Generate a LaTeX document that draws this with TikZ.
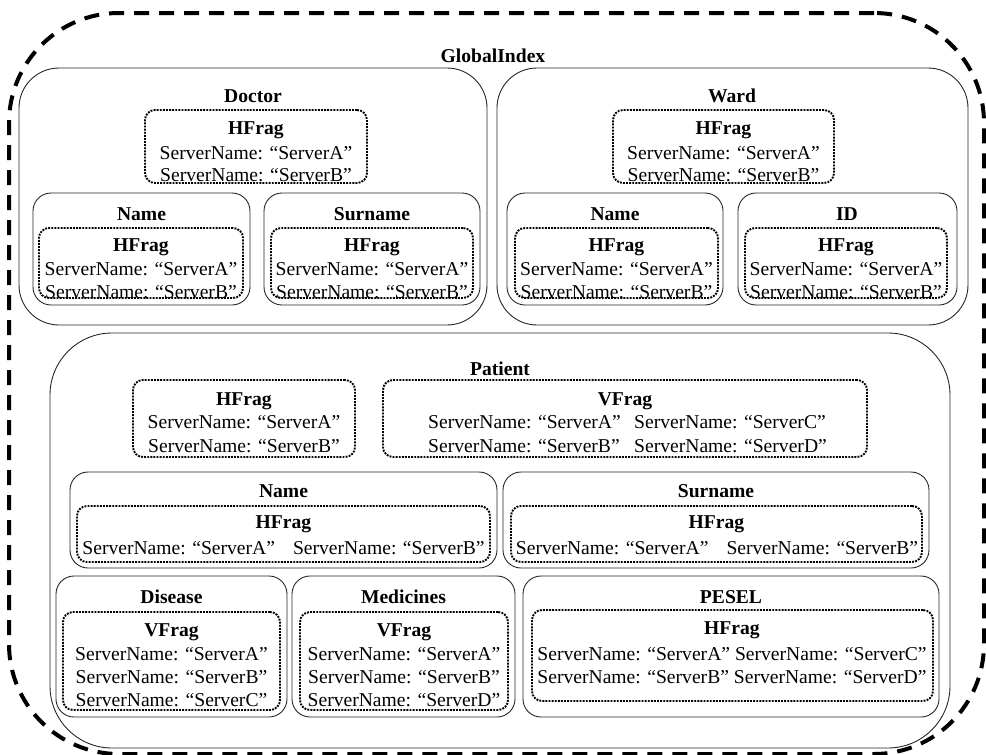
\documentclass[tikz,border=0pt]{standalone}
\usepackage{fontspec}
\setmainfont{Liberation Serif}
\newcommand\srvn[1]{ServerName: “Server#1”}
\newcommand\mkbox[6]{\node[#6, anchor=north west, minimum width={(#4)-(#2)}, minimum height={(#5)-(#3)}] (#1) at (#2,#3) {};}
\begin{document}
\begin{tikzpicture}[x=1pt,y=-1pt,
  frame/.style={draw=black!85, line width=0.9pt, inner sep=0pt, outer sep=0pt},
  big/.style={frame, rounded corners=40pt},
  attr/.style={frame, rounded corners=18pt},
  patbox/.style={frame, rounded corners=62pt},
  frag/.style={draw=black, line width=1.9pt, dash pattern=on 1.9pt off 1.2pt, rounded corners=10pt, inner sep=0pt, outer sep=0pt},
  gidx/.style={draw=black, line width=4pt, dash pattern=on 15pt off 10pt, rounded corners=110pt, inner sep=0pt, outer sep=0pt},
  txt/.style={anchor=base, inner sep=0pt, font=\fontsize{19.6}{23}\selectfont},
  ttl/.style={anchor=base, inner sep=0pt, font=\fontsize{19.6}{23}\selectfont\bfseries},
  txl/.style={anchor=base west, inner sep=0pt, font=\fontsize{19.6}{23}\selectfont}]
\useasboundingbox (0,0) rectangle (986,755);

% outer global index
\mkbox{gi}{9}{13}{984}{754}{gidx}
\node[ttl] (gT) at (493,62) {GlobalIndex};

% Doctor
\mkbox{doc}{19}{68}{487}{325}{big}
\node[ttl] (dT) at (253,102) {Doctor};
\mkbox{docF}{145}{110}{367}{183}{frag}
\node[ttl] (dFH) at (256,134) {HFrag};
\node[txt] (dF1) at (256,159) {\srvn{A}};
\node[txt] (dF2) at (256,181) {\srvn{B}};

\mkbox{docN}{33}{193}{250}{305}{attr}
\node[ttl] (dNT) at (141.5,220) {Name};
\mkbox{docNF}{39}{228}{243}{298}{frag}
\node[ttl] (dNH) at (141,251) {HFrag};
\node[txt] (dN1) at (141,275) {\srvn{A}};
\node[txt] (dN2) at (141,298) {\srvn{B}};

\mkbox{docS}{264}{193}{480}{305}{attr}
\node[ttl] (dST) at (372,220) {Surname};
\mkbox{docSF}{271}{228}{473}{298}{frag}
\node[ttl] (dSH) at (372,251) {HFrag};
\node[txt] (dS1) at (372,275) {\srvn{A}};
\node[txt] (dS2) at (372,298) {\srvn{B}};

% Ward
\mkbox{ward}{497}{68}{968}{325}{big}
\node[ttl] (wT) at (732,102) {Ward};
\mkbox{wardF}{613}{110}{834}{183}{frag}
\node[ttl] (wFH) at (723.5,134) {HFrag};
\node[txt] (wF1) at (723.5,159) {\srvn{A}};
\node[txt] (wF2) at (723.5,181) {\srvn{B}};

\mkbox{wardN}{507}{193}{723}{305}{attr}
\node[ttl] (wNT) at (615,220) {Name};
\mkbox{wardNF}{515}{228}{718}{298}{frag}
\node[ttl] (wNH) at (616.5,251) {HFrag};
\node[txt] (wN1) at (616.5,275) {\srvn{A}};
\node[txt] (wN2) at (616.5,298) {\srvn{B}};

\mkbox{wardI}{738}{193}{957}{305}{attr}
\node[ttl] (wIT) at (847,220) {ID};
\mkbox{wardIF}{745}{228}{947}{298}{frag}
\node[ttl] (wIH) at (846,251) {HFrag};
\node[txt] (wI1) at (846,275) {\srvn{A}};
\node[txt] (wI2) at (846,298) {\srvn{B}};

% Patient
\mkbox{pat}{50}{333}{950}{748}{patbox}
\node[ttl] (pT) at (500,375) {Patient};
\mkbox{patH}{133}{380}{355}{457}{frag}
\node[ttl] (pHH) at (244,405) {HFrag};
\node[txt] (pH1) at (244,428) {\srvn{A}};
\node[txt] (pH2) at (244,452) {\srvn{B}};

\mkbox{patV}{383}{380}{867}{457}{frag}
\node[ttl] (pVT) at (625,405) {VFrag};
\node[txl] (pV1a) at (428,428) {\srvn{A}};
\node[txl] (pV1b) at (634,428) {\srvn{C}};
\node[txl] (pV2a) at (428,452) {\srvn{B}};
\node[txl] (pV2b) at (634,452) {\srvn{D}};

\mkbox{patN}{70}{472}{497}{568}{attr}
\node[ttl] (pNT) at (283.5,497) {Name};
\mkbox{patNF}{77}{506}{490}{562}{frag}
\node[ttl] (pNH) at (283.5,528) {HFrag};
\node[txt] (pN1) at (283.5,554) {\srvn{A}\hspace{18pt}\srvn{B}};

\mkbox{patS}{503}{472}{929}{568}{attr}
\node[ttl] (pST) at (716,497) {Surname};
\mkbox{patSF}{511}{506}{922}{562}{frag}
\node[ttl] (pSH) at (716.5,528) {HFrag};
\node[txt] (pS1) at (717,554) {\srvn{A}\hspace{18pt}\srvn{B}};

\mkbox{patD}{56}{576}{287}{717}{attr}
\node[ttl] (pDT) at (171.5,603) {Disease};
\mkbox{patDF}{63}{612}{280}{710}{frag}
\node[ttl] (pDH) at (171.5,636) {VFrag};
\node[txt] (pD1) at (171.5,660) {\srvn{A}};
\node[txt] (pD2) at (171.5,683) {\srvn{B}};
\node[txt] (pD3) at (171.5,706) {\srvn{C}};

\mkbox{patM}{292}{576}{515}{717}{attr}
\node[ttl] (pMT) at (403.5,603) {Medicines};
\mkbox{patMF}{300}{612}{508}{710}{frag}
\node[ttl] (pMH) at (404,636) {VFrag};
\node[txt] (pM1) at (404,660) {\srvn{A}};
\node[txt] (pM2) at (404,683) {\srvn{B}};
\node[txt] (pM3) at (404,706) {\srvn{D}};

\mkbox{patP}{523}{576}{939}{717}{attr}
\node[ttl] (pPT) at (731,603) {PESEL};
\mkbox{patPF}{532}{610}{933}{701}{frag}
\node[ttl] (pPH) at (732,634) {HFrag};
\node[txt] (pP1) at (732,660) {\srvn{A} \srvn{C}};
\node[txt] (pP2) at (732,683) {\srvn{B} \srvn{D}};
\end{tikzpicture}
\end{document}
